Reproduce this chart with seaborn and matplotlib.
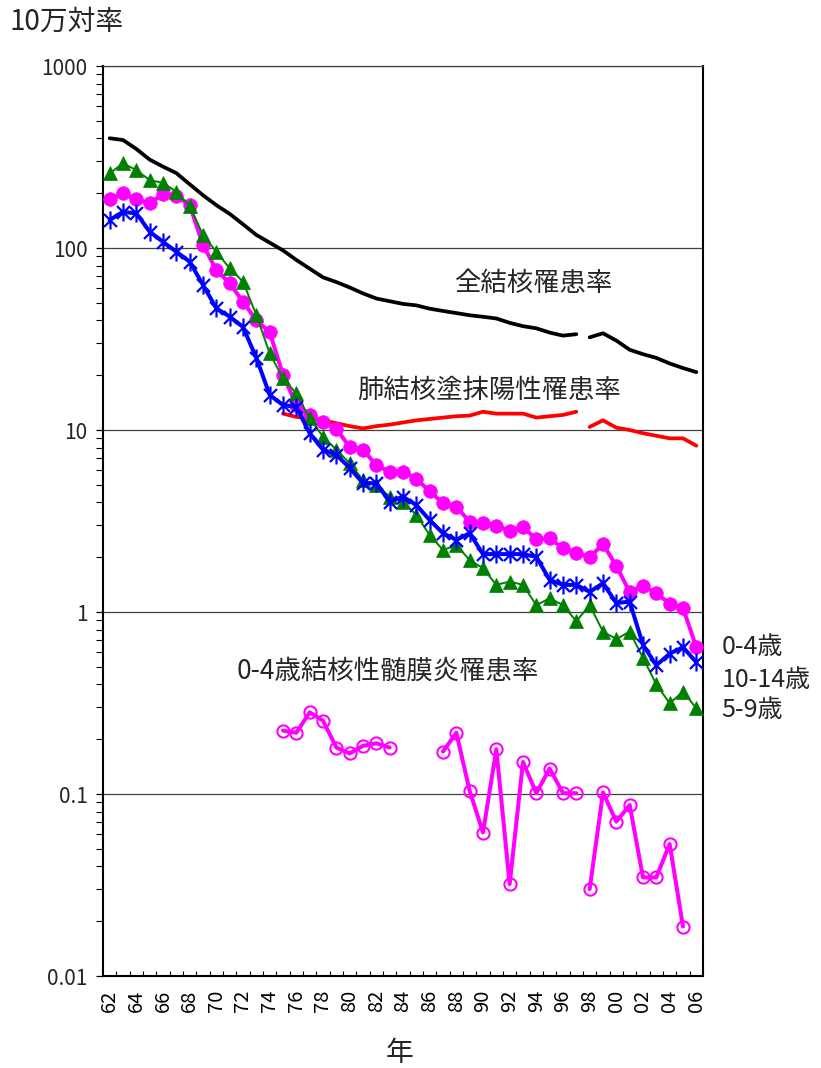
import numpy as np
import matplotlib
matplotlib.use("Agg")
import matplotlib.pyplot as plt
import seaborn as sns
from matplotlib.path import Path
from matplotlib.ticker import FixedLocator, FuncFormatter, LogLocator, NullFormatter

# ---- data (rates per 100,000) ----
years = list(range(1962, 2007))

# all-form TB notification rate; the series is split at the 1998 definition change
all_tb_years_a = list(range(1962, 1998))
all_tb_a = [401, 392, 350, 306, 280, 258, 224, 195, 172, 154,
            135, 118, 107, 97, 86, 77, 69, 65, 60.7, 56.3,
            52.8, 51, 49.3, 48.4, 46.4, 45.1, 43.9, 42.7, 41.9, 41,
            38.8, 37.2, 36.2, 34.3, 33.0, 33.6]
all_tb_years_b = list(range(1998, 2007))
all_tb_b = [32.3, 34.0, 31.0, 27.6, 26.1, 24.9, 23.2, 21.9, 20.8]

# smear-positive pulmonary TB notification rate
smear_years_a = list(range(1975, 1998))
smear_a = [12.3, 11.8, 11.6, 11.3, 10.9, 10.5, 10.2, 10.5, 10.7, 11.0,
           11.3, 11.5, 11.7, 11.9, 12.0, 12.6, 12.3, 12.3, 12.3, 11.7,
           11.9, 12.1, 12.6]
smear_years_b = list(range(1998, 2007))
smear_b = [10.4, 11.3, 10.3, 10.0, 9.6, 9.3, 9.0, 9.0, 8.2]

# childhood notification rates by age group, 1962-2006
age_0_4 = [185, 200, 185, 176, 198, 193, 172, 104, 75.7, 64,
           50.7, 40, 34.5, 20.1, 13.7, 12.1, 11.1, 10.1, 8.1, 7.8,
           6.4, 5.9, 5.9, 5.4, 4.6, 3.96, 3.79, 3.13, 3.10, 2.97,
           2.80, 2.94, 2.51, 2.54, 2.24, 2.12, 2.00, 2.36, 1.79, 1.29,
           1.39, 1.27, 1.11, 1.05, 0.64]
age_10_14 = [142.5, 158, 155, 123, 108, 95.4, 84.1, 62.7, 46.6, 42,
             36.8, 24.9, 15.6, 13.7, 13.4, 9.6, 7.8, 7.3, 6.2, 5.1,
             5.1, 4.04, 4.3, 3.87, 3.2, 2.71, 2.49, 2.71, 2.08, 2.08,
             2.08, 2.08, 2.01, 1.50, 1.41, 1.41, 1.29, 1.44, 1.12, 1.14,
             0.66, 0.51, 0.59, 0.64, 0.53]
age_5_9 = [257, 292, 268, 236, 228, 204, 170, 118, 95.4, 77.3,
           65.3, 42.8, 26.4, 19.2, 15.9, 11.6, 9.2, 7.8, 6.56, 5.31,
           4.99, 4.30, 4.04, 3.41, 2.65, 2.19, 2.33, 1.93, 1.74, 1.41,
           1.47, 1.41, 1.09, 1.19, 1.09, 0.89, 1.09, 0.78, 0.71, 0.78,
           0.56, 0.40, 0.315, 0.365, 0.296]

# TB meningitis rate, age 0-4 (three reporting periods)
mening_years_a = list(range(1975, 1984))
mening_a = [0.223, 0.217, 0.281, 0.253, 0.180, 0.167, 0.184, 0.190, 0.180]
mening_years_b = list(range(1987, 1998))
mening_b = [0.171, 0.217, 0.104, 0.0614, 0.176, 0.032, 0.150, 0.101, 0.138,
            0.101, 0.101]
mening_years_c = list(range(1998, 2006))
mening_c = [0.030, 0.102, 0.0705, 0.087, 0.0348, 0.0348, 0.0531, 0.0187]

y_ticks = [0.01, 0.1, 1, 10, 100, 1000]
y_tick_labels = ["0.01", "0.1", "1", "10", "100", "1000"]
x_tick_years = list(range(1962, 2007, 2))
x_tick_labels = [f"{y % 100:02d}" for y in x_tick_years]

# ---- style ----
sns.set_theme(style="white")
plt.rcParams["font.family"] = ["Noto Sans CJK JP", "DejaVu Sans"]
plt.rcParams["axes.unicode_minus"] = False

MAGENTA = "#FF00FF"
BLUE = "#0000FF"
GREEN = "#008000"
RED = "#FF0000"

# asterisk-like marker: an x crossed by a vertical bar
star_path = Path(
    [(0, -1), (0, 1), (-0.72, -0.72), (0.72, 0.72), (-0.72, 0.72), (0.72, -0.72)],
    [Path.MOVETO, Path.LINETO, Path.MOVETO, Path.LINETO, Path.MOVETO, Path.LINETO],
)

fig = plt.figure(figsize=(8.21, 10.68), dpi=100)
ax = fig.add_axes([0.12546, 0.08614, 0.7308, 0.85206])
ax.set_yscale("log")

line_kw = dict(ax=ax, errorbar=None, legend=False)

# all-form and smear-positive TB
for xs, ys in ((all_tb_years_a, all_tb_a), (all_tb_years_b, all_tb_b)):
    sns.lineplot(x=xs, y=ys, color="black", lw=2.7, zorder=3, **line_kw)
for xs, ys in ((smear_years_a, smear_a), (smear_years_b, smear_b)):
    sns.lineplot(x=xs, y=ys, color=RED, lw=2.7, zorder=3, **line_kw)

# age groups
sns.lineplot(x=years, y=age_0_4, color=MAGENTA, lw=2.9, marker="o", ms=9.8,
             markerfacecolor=MAGENTA, markeredgecolor=MAGENTA, mew=0.5,
             zorder=4, **line_kw)
sns.lineplot(x=years, y=age_5_9, color=GREEN, lw=1.4, marker="^", ms=10.5,
             markerfacecolor=GREEN, markeredgecolor=GREEN, mew=0.5,
             zorder=5, **line_kw)
sns.lineplot(x=years, y=age_10_14, color=BLUE, lw=2.9, marker=star_path, ms=13,
             markerfacecolor="none", markeredgecolor=BLUE, mew=1.6,
             zorder=6, **line_kw)

# meningitis
for xs, ys in ((mening_years_a, mening_a), (mening_years_b, mening_b),
               (mening_years_c, mening_c)):
    sns.lineplot(x=xs, y=ys, color=MAGENTA, lw=2.9, marker="o", ms=8.8,
                 markerfacecolor="none", markeredgecolor=MAGENTA, mew=1.5,
                 zorder=4, **line_kw)

# ---- axes ----
ax.set_xlim(1961.5, 2006.5)
ax.set_ylim(0.01, 1000)
ax.set_xlabel("")
ax.set_ylabel("")

ax.xaxis.set_major_locator(FixedLocator(x_tick_years))
ax.set_xticklabels(x_tick_labels, rotation=90, fontsize=14.5)
ax.xaxis.set_minor_locator(FixedLocator(np.arange(1962.5, 2006.5, 1)))
ax.tick_params(axis="x", which="major", length=0, pad=10, colors="black")
ax.tick_params(axis="x", which="minor", direction="in", length=3.6,
               width=0.8, color="black", bottom=True)

ax.yaxis.set_major_locator(FixedLocator(y_ticks))
ax.yaxis.set_major_formatter(FuncFormatter(
    lambda v, _: y_tick_labels[y_ticks.index(v)] if v in y_ticks else ""))
ax.yaxis.set_minor_locator(LogLocator(base=10, subs=range(2, 10), numticks=20))
ax.yaxis.set_minor_formatter(NullFormatter())
ax.tick_params(axis="y", which="major", direction="out", length=5, width=0.9,
               pad=6, labelsize=15, color="black", left=True)
ax.tick_params(axis="y", which="minor", direction="out", length=5, width=0.8,
               color="black", left=True)

ax.grid(True, which="major", axis="y", color="#404040", lw=0.9)
ax.grid(False, which="minor")
ax.set_axisbelow(True)

for side in ("left", "bottom", "right"):
    ax.spines[side].set_color("black")
    ax.spines[side].set_linewidth(1.5)
ax.spines["top"].set_color("#404040")
ax.spines["top"].set_linewidth(0.9)

# ---- labels ----
ax.text(1993.75, 64, "全結核罹患率", ha="center", va="center", fontsize=19)
ax.text(1990.45, 16.6, "肺結核塗抹陽性罹患率", ha="center", va="center", fontsize=19)
ax.text(1982.85, 0.47, "0-4歳結核性髄膜炎罹患率", ha="center", va="center", fontsize=19)

ax.text(2007.9, 0.645, "0-4歳", ha="left", va="center", fontsize=18)
ax.text(2007.9, 0.423, "10-14歳", ha="left", va="center", fontsize=18)
ax.text(2007.9, 0.289, "5-9歳", ha="left", va="center", fontsize=18)

fig.text(10 / 821, 1 - 22 / 1068, "10万対率", ha="left", va="center", fontsize=20)
fig.text(400 / 821, 1 - 1053 / 1068, "年", ha="center", va="center", fontsize=20)

fig.savefig("out.png", dpi=100)
